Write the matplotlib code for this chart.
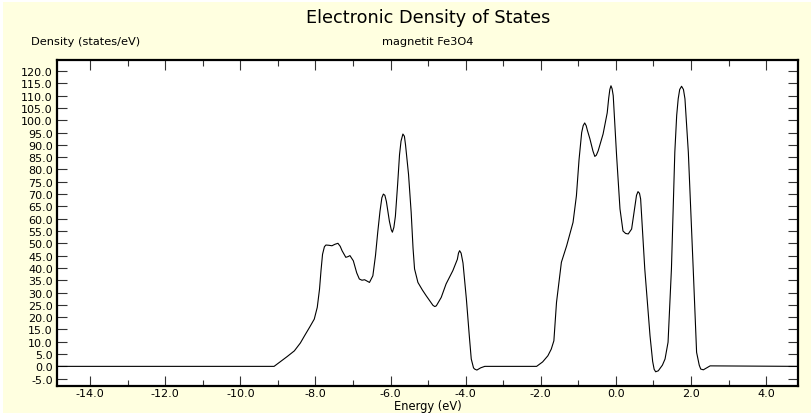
import numpy as np
import matplotlib
matplotlib.use('Agg')
import matplotlib.pyplot as plt
from matplotlib.patches import Rectangle
from matplotlib.ticker import MultipleLocator, FormatStrFormatter

# DOS curve (energy in eV, density in states/eV)
energy = [-14.88, -9.10, -8.96, -8.75, -8.56, -8.40, -8.29, -8.15, -8.03, -7.95, -7.89,
          -7.85, -7.81, -7.76, -7.72, -7.64, -7.56, -7.48, -7.40, -7.34, -7.29, -7.19,
          -7.13, -7.08, -6.99, -6.90, -6.83, -6.76, -6.69, -6.56, -6.47, -6.40, -6.34,
          -6.28, -6.23, -6.19, -6.15, -6.11, -6.03, -5.98, -5.95, -5.91, -5.87, -5.81,
          -5.76, -5.72, -5.67, -5.63, -5.60, -5.52, -5.45, -5.40, -5.36, -5.27, -5.15,
          -5.05, -4.95, -4.87, -4.82, -4.78, -4.65, -4.52, -4.34, -4.22, -4.19, -4.16,
          -4.12, -4.07, -3.98, -3.90, -3.85, -3.79, -3.76, -3.70, -3.60, -3.49, -2.11,
          -1.95, -1.81, -1.72, -1.65, -1.58, -1.45, -1.31, -1.14, -1.05, -0.98, -0.91,
          -0.87, -0.83, -0.79, -0.76, -0.69, -0.61, -0.56, -0.52, -0.47, -0.34, -0.23,
          -0.19, -0.16, -0.13, -0.10, -0.07, 0.02, 0.11, 0.19, 0.26, 0.33, 0.42, 0.51,
          0.55, 0.59, 0.63, 0.66, 0.77, 0.91, 0.98, 1.02, 1.06, 1.13, 1.24, 1.31, 1.39,
          1.48, 1.57, 1.62, 1.66, 1.70, 1.75, 1.80, 1.84, 1.93, 2.06, 2.15, 2.22, 2.26,
          2.33, 2.42, 2.51, 4.85]
density = [0.0, 0.0, 1.6, 4.0, 6.3, 9.5, 12.4, 16.0, 19.2, 24.0, 31.4,
           39.0, 45.5, 48.6, 49.3, 49.2, 49.0, 49.6, 50.0, 48.8, 47.0, 44.3,
           44.6, 45.0, 42.9, 38.0, 35.5, 35.0, 35.2, 34.1, 36.8, 45.0, 54.5,
           63.0, 68.5, 70.0, 69.5, 67.0, 59.0, 55.5, 54.5, 56.5, 61.0, 74.0,
           86.0, 91.5, 94.4, 93.5, 90.0, 78.0, 62.6, 48.0, 39.6, 34.1, 31.0,
           28.7, 26.5, 24.8, 24.3, 24.6, 28.0, 33.5, 38.9, 43.5, 46.0, 47.0,
           46.0, 42.0, 27.4, 12.0, 3.0, -0.6, -1.1, -1.5, -0.6, 0.0, 0.0,
           1.8, 4.3, 7.0, 10.4, 26.0, 42.3, 49.0, 58.5, 69.3, 84.0, 95.0,
           97.8, 98.9, 97.8, 96.0, 92.4, 87.5, 85.3, 85.8, 87.6, 94.4, 103.0,
           109.0, 112.5, 114.0, 112.8, 110.0, 85.6, 64.0, 55.0, 54.0, 53.8, 55.8, 65.3,
           69.5, 71.0, 70.3, 68.0, 39.6, 12.4, 2.0, -1.2, -2.2, -1.8, 0.5, 3.0, 9.8,
           39.6, 87.0, 102.0, 108.7, 112.5, 113.8, 112.5, 108.7, 87.0, 39.6, 5.7, 0.5, -1.1,
           -1.4, -0.6, 0.2, 0.0]

x_ticks = np.arange(-14.0, 4.1, 2.0)
y_ticks = np.arange(-5.0, 120.1, 5.0)

fig = plt.figure(figsize=(8.12, 4.14), dpi=100, facecolor='white')
fig.patches.append(Rectangle((3 / 812, 0), 1, 1 - 3 / 414, transform=fig.transFigure,
                             facecolor='#ffffe0', edgecolor='none', zorder=-10))

ax = fig.add_axes([57 / 812, 1 - 387.3 / 414, (798 - 57) / 812, (387.3 - 60.7) / 414])
ax.set_facecolor('white')
ax.plot(energy, density, color='black', linewidth=0.8)

ax.set_xlim(-14.88, 4.85)
ax.set_ylim(-8.1, 124.6)
ax.set_xticks(x_ticks)
ax.xaxis.set_minor_locator(MultipleLocator(1.0))
ax.set_yticks(y_ticks)
ax.xaxis.set_major_formatter(FormatStrFormatter('%.1f'))
ax.yaxis.set_major_formatter(FormatStrFormatter('%.1f'))
ax.tick_params(axis='both', which='both', direction='in', top=True, right=True,
               labelsize=8, width=0.8, color='#333333')
ax.tick_params(axis='x', which='major', length=7, pad=1)
ax.tick_params(axis='x', which='minor', length=4)
ax.tick_params(axis='y', which='major', length=7, pad=3)
for s in ax.spines.values():
    s.set_linewidth(1.6)

fig.text(0.5268, 1 - 18 / 414, 'Electronic Density of States', ha='center', va='center',
         fontsize=12.7)
fig.text(0.5268, 1 - 42 / 414, 'magnetit Fe3O4', ha='center', va='center', fontsize=8.2)
fig.text(31 / 812, 1 - 42 / 414, 'Density (states/eV)', ha='left', va='center', fontsize=8.2)
fig.text(0.5268, 1 - 407 / 414, 'Energy (eV)', ha='center', va='center', fontsize=8.3)

fig.savefig('out.png', dpi=100, facecolor=fig.get_facecolor())
